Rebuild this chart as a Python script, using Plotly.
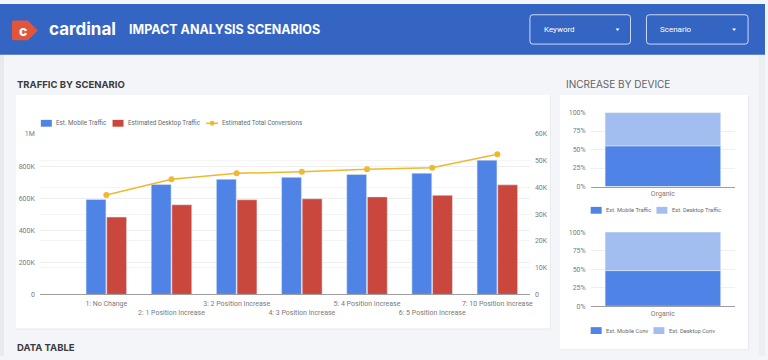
import plotly.graph_objects as go

W, H = 768, 360


def fx(x):
    return x / W


def fy(y):
    return 1 - y / H


# ---------------- data ----------------
categories = [
    "1: No Change",
    "2: 1 Position Increase",
    "3: 2 Position Increase",
    "4: 3 Position Increase",
    "5: 4 Position Increase",
    "6: 5 Position Increase",
    "7: 10 Position Increase",
]
mobile_traffic = [592000, 685000, 718000, 730000, 748000, 756000, 837000]
desktop_traffic = [482000, 559000, 590000, 596000, 608000, 618000, 683000]
total_conversions = [37200, 43100, 45300, 45900, 46800, 47400, 52400]

left_tick_vals = [0, 200000, 400000, 600000, 800000, 1000000]
left_tick_text = ["0", "200K", "400K", "600K", "800K", "1M"]
right_tick_vals = [0, 10000, 20000, 30000, 40000, 50000, 60000]
right_tick_text = ["0", "10K", "20K", "30K", "40K", "50K", "60K"]

device_category = ["Organic"]
traffic_mobile_share = [55]
traffic_desktop_share = [45]
conv_mobile_share = [48]
conv_desktop_share = [52]
pct_tick_vals = [0, 25, 50, 75, 100]
pct_tick_text = ["0%", "25%", "50%", "75%", "100%"]

main_series_names = ["Est. Mobile Traffic", "Estimated Desktop Traffic",
                     "Estimated Total Conversions"]
traffic_series_names = ["Est. Mobile Traffic", "Est. Desktop Traffic"]
conv_series_names = ["Est. Mobile Conv", "Est. Desktop Conv"]

# ---------------- colours ----------------
BLUE = "#4f83e6"
RED = "#c9473c"
GOLD = "#f0b731"
LIGHT_BLUE = "#a2bef1"
HEADER = "#3565c2"
PAGE = "#f4f5f8"
TICK = "#7a7a7a"
LEG = "#666a6e"
GRID = "#efefef"

fig = go.Figure()

# staggered tick labels
staggered = [c if i % 2 == 0 else "<br>" + c for i, c in enumerate(categories)]

BW = 0.305
fig.add_trace(go.Bar(
    x=categories, y=mobile_traffic, name=main_series_names[0],
    marker=dict(color=BLUE), width=BW, offset=-BW - 0.006,
    xaxis="x", yaxis="y",
))
fig.add_trace(go.Bar(
    x=categories, y=desktop_traffic, name=main_series_names[1],
    marker=dict(color=RED), width=BW, offset=0.006,
    xaxis="x", yaxis="y",
))
fig.add_trace(go.Scatter(
    x=categories, y=total_conversions, name=main_series_names[2],
    mode="lines+markers", line=dict(color=GOLD, width=1.5),
    marker=dict(color=GOLD, size=6),
    xaxis="x", yaxis="y2",
))

# device charts (100% stacked)
fig.add_trace(go.Bar(
    x=device_category, y=traffic_mobile_share, name=traffic_series_names[0],
    marker=dict(color=BLUE), width=0.8, offset=-0.4,
    xaxis="x3", yaxis="y3",
))
fig.add_trace(go.Bar(
    x=device_category, y=traffic_desktop_share, base=traffic_mobile_share,
    name=traffic_series_names[1],
    marker=dict(color=LIGHT_BLUE), width=0.8, offset=-0.4,
    xaxis="x3", yaxis="y3",
))
fig.add_trace(go.Bar(
    x=device_category, y=conv_mobile_share, name=conv_series_names[0],
    marker=dict(color=BLUE), width=0.8, offset=-0.4,
    xaxis="x4", yaxis="y4",
))
fig.add_trace(go.Bar(
    x=device_category, y=conv_desktop_share, base=conv_mobile_share,
    name=conv_series_names[1],
    marker=dict(color=LIGHT_BLUE), width=0.8, offset=-0.4,
    xaxis="x4", yaxis="y4",
))

tickfont = dict(family="Roboto", size=7, color=TICK)

shapes = []
annotations = []


def rect(x0, y0, x1, y1, fill, layer="below"):
    shapes.append(dict(
        type="rect", xref="paper", yref="paper",
        x0=fx(x0), x1=fx(x1), y0=fy(y1), y1=fy(y0),
        fillcolor=fill, line=dict(width=0), layer=layer,
    ))


def rounded_box(x0, y0, x1, y1, r, color):
    p = (
        f"M {fx(x0 + r)},{fy(y0)} L {fx(x1 - r)},{fy(y0)} "
        f"Q {fx(x1)},{fy(y0)} {fx(x1)},{fy(y0 + r)} "
        f"L {fx(x1)},{fy(y1 - r)} Q {fx(x1)},{fy(y1)} {fx(x1 - r)},{fy(y1)} "
        f"L {fx(x0 + r)},{fy(y1)} Q {fx(x0)},{fy(y1)} {fx(x0)},{fy(y1 - r)} "
        f"L {fx(x0)},{fy(y0 + r)} Q {fx(x0)},{fy(y0)} {fx(x0 + r)},{fy(y0)} Z"
    )
    shapes.append(dict(type="path", xref="paper", yref="paper", path=p,
                       line=dict(color=color, width=1), layer="above"))


def triangle(cx, cy, color):
    p = (f"M {fx(cx - 2)},{fy(cy - 1)} L {fx(cx + 2)},{fy(cy - 1)} "
         f"L {fx(cx)},{fy(cy + 1.5)} Z")
    shapes.append(dict(type="path", xref="paper", yref="paper", path=p,
                       fillcolor=color, line=dict(width=0), layer="above"))


def text(x, y, s, size, color, family="Inter", weight=400, xanchor="left"):
    annotations.append(dict(
        x=fx(x), y=fy(y), xref="paper", yref="paper", text=s, showarrow=False,
        xanchor=xanchor, yanchor="middle",
        font=dict(family=family, size=size, color=color, weight=weight),
    ))


def legend_swatch(x, y, color, label, kind="box", size=6.3):
    if kind == "box":
        rect(x, y - 3.5, x + 11, y + 3.5, color, layer="above")
    else:
        shapes.append(dict(type="line", xref="paper", yref="paper",
                           x0=fx(x), x1=fx(x + 12), y0=fy(y), y1=fy(y),
                           line=dict(color=color, width=1.5), layer="above"))
        shapes.append(dict(type="circle", xref="paper", yref="paper",
                           x0=fx(x + 3.5), x1=fx(x + 8.5),
                           y0=fy(y + 2.5), y1=fy(y - 2.5),
                           fillcolor=color, line=dict(width=0), layer="above"))
    text(x + 13.5, y, label, size, LEG, family="Roboto")


# page decorations
rect(0, 52, 4, 360, "#e8eaed")
rect(762, 52, 768, 360, "#eceef1")
rect(0, 0, 768, 52, HEADER)
# cards (shadow + card)
rect(16, 94, 553, 333, "#e7e9ed")
rect(16, 93, 552, 332, "#ffffff")
rect(562, 94, 752, 354, "#e7e9ed")
rect(562, 93, 751, 353, "#ffffff")

# logo
logo = (f"M {fx(14)},{fy(17)} L {fx(28)},{fy(17)} L {fx(38)},{fy(27)} "
        f"L {fx(28)},{fy(37)} L {fx(14)},{fy(37)} Q {fx(12)},{fy(37)} {fx(12)},{fy(35)} "
        f"L {fx(12)},{fy(19)} Q {fx(12)},{fy(17)} {fx(14)},{fy(17)} Z")
shapes.append(dict(type="path", xref="paper", yref="paper", path=logo,
                   fillcolor="#e2553b", line=dict(width=0), layer="above"))

# dropdowns
rounded_box(532, 11, 633, 41, 3, "rgba(255,255,255,0.75)")
rounded_box(649, 11, 751, 41, 3, "rgba(255,255,255,0.75)")
triangle(620, 26, "white")
triangle(737, 26, "white")

text(23.5, 27, "c", 14, "white", weight=800, xanchor="center")
text(47, 25.5, "cardinal", 17, "white", weight=700)
text(127, 26.5, "IMPACT ANALYSIS SCENARIOS", 12.5, "white", weight=700)
text(544, 26, "Keyword", 8, "white", family="Roboto")
text(661, 26, "Scenario", 8, "white", family="Roboto")
text(15, 82, "TRAFFIC BY SCENARIO", 9.5, "#3b3b3b", weight=700)
text(566, 81.5, "INCREASE BY DEVICE", 10, "#5f6368", weight=400)
text(15, 351.5, "DATA TABLE", 9.5, "#3b3b3b", weight=700)

# legends (drawn)
legend_swatch(41, 122, BLUE, main_series_names[0])
legend_swatch(113, 122, RED, main_series_names[1])
legend_swatch(207, 122, GOLD, main_series_names[2], kind="line")
legend_swatch(593, 211, BLUE, traffic_series_names[0], size=5.7)
legend_swatch(659, 211, LIGHT_BLUE, traffic_series_names[1], size=5.7)
legend_swatch(593, 334, BLUE, conv_series_names[0], size=5.7)
legend_swatch(656, 334, LIGHT_BLUE, conv_series_names[1], size=5.7)

fig.update_layout(
    width=W, height=H,
    margin=dict(l=0, r=0, t=0, b=0),
    paper_bgcolor=PAGE, plot_bgcolor="rgba(0,0,0,0)",
    font=dict(family="Roboto", size=7, color=TICK),
    barmode="group", showlegend=False,
    shapes=shapes, annotations=annotations,
    xaxis=dict(
        domain=[fx(40), fx(532)], anchor="y", type="category",
        categoryorder="array", categoryarray=categories,
        range=[-1.02, 6.5], tickvals=categories, ticktext=staggered,
        tickangle=0, showline=True, linecolor="#9e9e9e", linewidth=1,
        ticks="", showgrid=False, tickfont=tickfont, ticklabelstandoff=2,
        fixedrange=True,
    ),
    yaxis=dict(
        domain=[fy(297), fy(133)], anchor="x", range=[0, 1000000],
        tickvals=left_tick_vals, ticktext=left_tick_text,
        gridcolor=GRID, gridwidth=1, zeroline=False, showline=False,
        ticks="", tickfont=tickfont, ticklabelstandoff=4, fixedrange=True,
    ),
    yaxis2=dict(
        overlaying="y", anchor="x", side="right", range=[0, 60000],
        tickvals=right_tick_vals, ticktext=right_tick_text,
        gridcolor="#f4f4f4", gridwidth=1, zeroline=False, showline=False,
        ticks="", tickfont=tickfont, ticklabelstandoff=4, fixedrange=True,
    ),
    xaxis3=dict(
        domain=[fx(593), fx(738)], anchor="y3", type="category",
        range=[-0.5, 0.5], showline=True, linecolor="#9e9e9e", ticks="",
        showgrid=False, tickfont=tickfont, fixedrange=True,
    ),
    yaxis3=dict(
        domain=[fy(186.7), fy(111)], anchor="x3", range=[0, 100],
        tickvals=pct_tick_vals, ticktext=pct_tick_text, gridcolor=GRID,
        zeroline=False, ticks="", tickfont=tickfont, ticklabelstandoff=4,
        fixedrange=True,
    ),
    xaxis4=dict(
        domain=[fx(593), fx(738)], anchor="y4", type="category",
        range=[-0.5, 0.5], showline=True, linecolor="#9e9e9e", ticks="",
        showgrid=False, tickfont=tickfont, fixedrange=True,
    ),
    yaxis4=dict(
        domain=[fy(309), fy(233.3)], anchor="x4", range=[0, 100],
        tickvals=pct_tick_vals, ticktext=pct_tick_text, gridcolor=GRID,
        zeroline=False, ticks="", tickfont=tickfont, ticklabelstandoff=4,
        fixedrange=True,
    ),
)

fig.write_html(
    "out.html",
    config={"displayModeBar": False},
    post_script="document.body.style.margin='0';document.body.style.overflow='hidden';",
)
